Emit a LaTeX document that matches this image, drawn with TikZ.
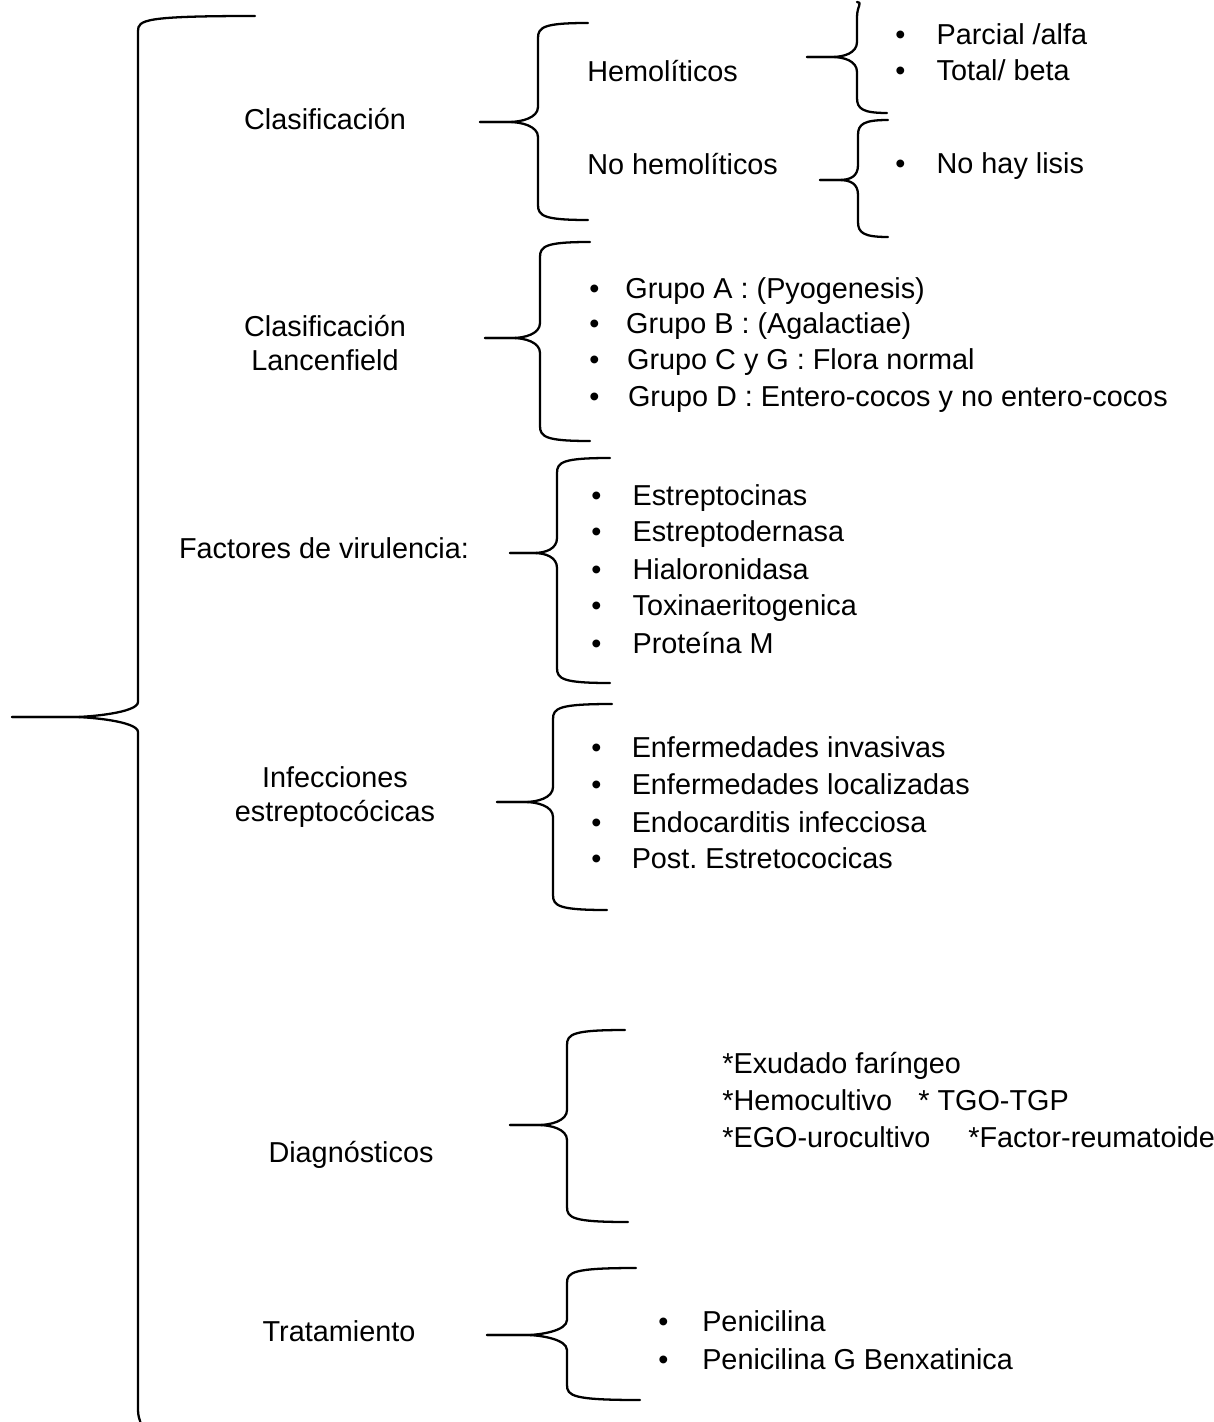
\documentclass[tikz,border=0pt]{standalone}
\usepackage{fontspec}
\setmainfont{Liberation Sans}
\frenchspacing
\newcommand{\mybrace}[7]{% tipx, midy, xv, ytop, ybot, xtop, xbot
  \pgfmathsetmacro{\bmx}{#3-((#3-#1)*0.5)}%
  \draw[bracepen] (#6,#4) .. controls (#3+6,#4) and (#3,#4+4) .. (#3,#4+15)
    -- (#3,#2-15) .. controls (#3,#2-4) and (\bmx+12,#2) .. (\bmx,#2) -- (#1,#2);
  \draw[bracepen] (#1,#2) -- (\bmx,#2) .. controls (\bmx+12,#2) and (#3,#2+4) .. (#3,#2+15)
    -- (#3,#5-15) .. controls (#3,#5-4) and (#3+6,#5) .. (#7,#5);}
\newcommand{\itm}[2][23pt]{\makebox[#1][l]{•}#2}
\begin{document}
\begin{tikzpicture}[x=0.02cm,y=-0.02cm,
  bracepen/.style={line width=1.3pt,line cap=round,line join=round},
  lbl/.style={inner sep=0pt,font=\fontsize{16.4}{19.8}\selectfont,align=center},
  itx/.style={inner sep=0pt,anchor=base west,font=\fontsize{16.4}{19.8}\selectfont}]
\useasboundingbox (0,0) rectangle (1213,1422);
% main brace
\mybrace{12}{717}{138}{16}{1425}{255}{138}
% level 2 labels
\node[lbl,anchor=base] (clas) at (325,130) {Clasificación};
\node[lbl,anchor=center] (lanc) at (325,343) {Clasificación\\Lancenfield};
\node[lbl,anchor=base] (fact) at (324,558) {Factores de virulencia:};
\node[lbl,anchor=center] (infe) at (335,797) {Infecciones\\estreptocócicas};
\node[lbl,anchor=base] (diag) at (351,1162) {Diagnósticos};
\node[lbl,anchor=base] (trat) at (339,1341) {Tratamiento};
% braces
\mybrace{480}{122}{538}{23}{220}{588}{588}
\mybrace{485}{338}{540}{242}{441}{590}{590}
\mybrace{510}{553}{557}{458}{683}{610}{610}
\mybrace{497}{802}{553}{704}{910}{612}{607}
\mybrace{510}{1125}{567}{1030}{1222}{625}{628}
\mybrace{487}{1335}{567}{1268}{1400}{636}{640}
% clasificacion
\node[itx] (hemo) at (587,82) {Hemolíticos};
\node[itx] (nohemo) at (587,175) {No hemolíticos};
\mybrace{807}{57}{857}{2}{113}{857}{887}
\mybrace{820}{180}{858}{120}{237}{888}{888}
\node[itx] (h1) at (895,45) {\itm[23.5pt]{Parcial /alfa}};
\node[itx] (h2) at (895,81) {\itm[23.5pt]{Total/ beta}};
\node[itx] (n1) at (895,174) {\itm[23.5pt]{No hay lisis}};
% lancenfield
\node[itx] (g1) at (589,298) {\itm[20.5pt]{Grupo A : (Pyogenesis)}};
\node[itx] (g2) at (589,334) {\itm[21pt]{Grupo B : (Agalactiae)}};
\node[itx] (g3) at (589,369) {\itm[21.5pt]{Grupo C y G : Flora normal}};
\node[itx] (g4) at (589,406) {\itm[22pt]{Grupo D : Entero-cocos y no entero-cocos}};
% factores
\node[itx] (f1) at (591,505) {\itm[23.5pt]{Estreptocinas}};
\node[itx] (f2) at (591,541) {\itm[23.5pt]{Estreptodernasa}};
\node[itx] (f3) at (591,579) {\itm[23.5pt]{Hialoronidasa}};
\node[itx] (f4) at (591,615) {\itm[23.5pt]{Toxinaeritogenica}};
\node[itx] (f5) at (591,653) {\itm[23.5pt]{Proteína M}};
% infecciones
\node[itx] (i1) at (591,757) {\itm[23pt]{Enfermedades invasivas}};
\node[itx] (i2) at (591,794) {\itm[23pt]{Enfermedades localizadas}};
\node[itx] (i3) at (591,832) {\itm[23pt]{Endocarditis infecciosa}};
\node[itx] (i4) at (591,868) {\itm[23pt]{Post. Estretococicas}};
% diagnosticos
\node[itx] (d1) at (722,1073) {*Exudado faríngeo};
\node[itx] (d2) at (722,1110) {*Hemocultivo};
\node[itx] (d3) at (918,1110) {* TGO-TGP};
\node[itx] (d4) at (722,1147) {*EGO-urocultivo};
\node[itx] (d5) at (968,1147) {*Factor-reumatoide};
% tratamiento
\node[itx] (t1) at (658,1331) {\itm[25pt]{Penicilina}};
\node[itx] (t2) at (658,1369) {\itm[25pt]{Penicilina G Benxatinica}};
\end{tikzpicture}
\end{document}
